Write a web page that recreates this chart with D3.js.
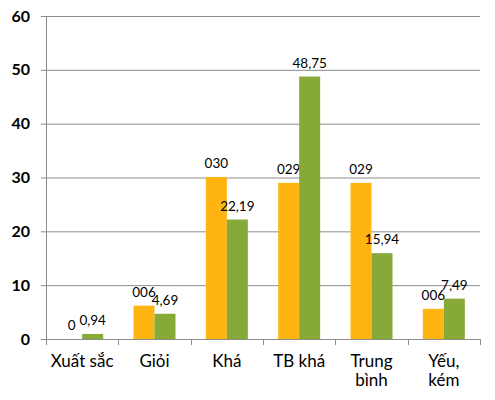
<!DOCTYPE html>
<html>
<head>
<meta charset="utf-8">
<script src="https://cdn.jsdelivr.net/npm/d3@7"></script>
<style>
  body { margin: 0; background: #fff; }
  text { font-family: Lato, "DejaVu Sans", sans-serif; }
</style>
</head>
<body>
<div id="chart"></div>
<script>
// data
var categories = [['Xuất sắc'], ['Giỏi'], ['Khá'], ['TB khá'], ['Trung', 'bình'], ['Yếu,', 'kém']];
var seriesA = [0, 6.2, 30.1, 29, 29, 5.6];        // orange, labels shown as 000
var seriesB = [0.94, 4.69, 22.19, 48.75, 15.94, 7.49]; // green
var yTicks = [0, 10, 20, 30, 40, 50, 60];

var width = 495, height = 400,
    margins = {top: 16, right: 15, bottom: 61, left: 46};
var w = width - margins.left - margins.right,
    h = height - margins.top - margins.bottom;

var colors = {a: '#FFB511', b: '#86A938', grid: '#8c8c8c'};

var svg = d3.select('#chart').append('svg')
    .attr('width', width)
    .attr('height', height);

var g = svg.append('g')
    .attr('transform', 'translate(' + margins.left + ',' + margins.top + ')');

var x = d3.scaleBand()
    .domain(d3.range(categories.length))
    .range([0, w]);

var y = d3.scaleLinear()
    .domain([0, 60])
    .range([h, 0]);

var barW = 21;

// grid lines + y axis
var yAxis = g.append('g')
    .call(d3.axisLeft(y).tickValues(yTicks).tickSize(-w).tickSizeOuter(0).tickPadding(16));
yAxis.select('.domain').remove();
yAxis.selectAll('.tick line')
    .attr('x1', -5)
    .attr('stroke', colors.grid);
yAxis.selectAll('.tick text')
    .attr('fill', '#000')
    .style('font-size', '16px')
    .style('font-weight', 'bold');

// left axis line
g.append('line')
    .attr('x1', 0.5).attr('x2', 0.5)
    .attr('y1', 0).attr('y2', h)
    .attr('stroke', colors.grid);

// x axis
var xAxis = g.append('g')
    .attr('transform', 'translate(0,' + h + ')');
xAxis.append('line')
    .attr('x1', 0).attr('x2', w)
    .attr('y1', 0.5).attr('y2', 0.5)
    .attr('stroke', colors.grid);
xAxis.selectAll('.xtick')
    .data(d3.range(categories.length + 1))
    .enter().append('line')
    .attr('x1', function(d) { return Math.round(d * x.step()) + 0.5; })
    .attr('x2', function(d) { return Math.round(d * x.step()) + 0.5; })
    .attr('y1', 0).attr('y2', 6)
    .attr('stroke', colors.grid);

var labels = xAxis.selectAll('.xlabel')
    .data(categories)
    .enter().append('text')
    .attr('text-anchor', 'middle')
    .attr('x', function(d, i) { return x(i) + x.bandwidth() / 2; })
    .attr('y', 28)
    .style('font-size', '17px')
    .attr('fill', '#000');
labels.selectAll('tspan')
    .data(function(d) { return d; })
    .enter().append('tspan')
    .attr('x', function() { return d3.select(this.parentNode).attr('x'); })
    .attr('dy', function(d, i) { return i ? 19 : 0; })
    .text(function(d) { return d; });

// bars
var fmtA = d3.format('03.0f'),
    fmtB = function(v) { return d3.format('.2f')(v).replace('.', ','); };

function drawSeries(data, offset, color, fmt) {
    var cx = function(i) { return x(i) + x.bandwidth() / 2 + offset; };
    g.selectAll(null)
        .data(data)
        .enter().append('rect')
        .attr('x', function(d, i) { return cx(i) - barW / 2; })
        .attr('width', barW)
        .attr('y', function(d) { return y(d); })
        .attr('height', function(d) { return h - y(d); })
        .attr('fill', color);
    g.selectAll(null)
        .data(data)
        .enter().append('text')
        .attr('text-anchor', 'middle')
        .attr('x', function(d, i) { return cx(i); })
        .attr('y', function(d) { return y(d) - 9; })
        .style('font-size', '13.5px')
        .attr('fill', '#000')
        .text(function(d) { return fmt(d); });
}

drawSeries(seriesA, -10.5, colors.a, function(v) { return v === 0 ? '0' : fmtA(v); });
drawSeries(seriesB, 10.5, colors.b, fmtB);
</script>
</body>
</html>
